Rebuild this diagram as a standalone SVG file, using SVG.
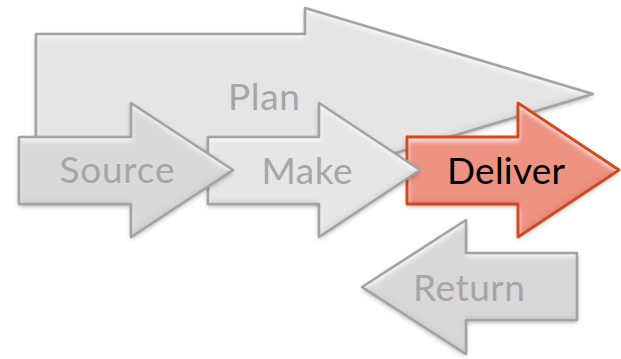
<svg xmlns="http://www.w3.org/2000/svg" width="621" height="359" viewBox="0 0 621 359">
  <style>
    .fill-plan { fill: #e5e5e5; }
    .fill-source { fill: #d9d9d9; }
    .fill-make { fill: #e6e6e6; }
    .fill-deliver { fill: #ee9282; }
    .fill-return { fill: #d8d8d8; }
    .edge { fill: none; stroke: #a3a3a3; stroke-width: 2.6; stroke-linejoin: round; }
    .edge-hot { fill: none; stroke: #d8471b; stroke-width: 2.8; stroke-linejoin: round; }
    .label { font-family: Lato, "Open Sans", "Liberation Sans", sans-serif; font-size: 37px; fill: #a6a6a6; text-anchor: middle; }
    .label-hot { fill: #000000; }
  </style>
  <defs>
    <!-- soft outer shadow plus a bevel-like light band along the upper inner edge -->
    <filter id="bevel" x="-10%" y="-15%" width="120%" height="135%">
      <feGaussianBlur in="SourceAlpha" stdDeviation="2.5" result="blur"/>
      <feOffset in="blur" dy="2" result="blurOff"/>
      <feFlood flood-color="#000" flood-opacity="0.35"/>
      <feComposite in2="blurOff" operator="in" result="shadow"/>
      <feGaussianBlur in="SourceAlpha" stdDeviation="2.5" result="inBlur"/>
      <feOffset in="inBlur" dx="1" dy="4" result="inDown"/>
      <feComposite in="SourceAlpha" in2="inDown" operator="out" result="topBand"/>
      <feFlood flood-color="#ffffff" flood-opacity="0.75"/>
      <feComposite in2="topBand" operator="in" result="light"/>
      <feOffset in="inBlur" dx="-1" dy="-4" result="inUp"/>
      <feComposite in="SourceAlpha" in2="inUp" operator="out" result="bottomBand"/>
      <feFlood flood-color="#000000" flood-opacity="0.12"/>
      <feComposite in2="bottomBand" operator="in" result="dark"/>
      <feMerge>
        <feMergeNode in="shadow"/>
        <feMergeNode in="SourceGraphic"/>
        <feMergeNode in="light"/>
        <feMergeNode in="dark"/>
      </feMerge>
    </filter>
    <path id="shape-plan" d="M36,34 H305 V8 L593,94 L305,180 V154 H36 Z"/>
    <path id="shape-source" d="M19,137 H131 V103 L233,170 L131,237 V204 H19 Z"/>
    <path id="shape-make" d="M208,137 H319 V103 L420,170 L319,237 V204 H208 Z"/>
    <path id="shape-deliver" d="M407,137 H518 V103 L619,170 L518,237 V204 H407 Z"/>
    <path id="shape-return" d="M362,287 L466,220 V253 H577 V320 H466 V354 Z"/>
  </defs>

  <g id="plan">
    <use href="#shape-plan" class="fill-plan" filter="url(#bevel)"/>
    <use href="#shape-plan" class="edge"/>
    <text class="label" x="264" y="110" textLength="72">Plan</text>
  </g>

  <g id="deliver">
    <use href="#shape-deliver" class="fill-deliver" filter="url(#bevel)"/>
    <use href="#shape-deliver" class="edge-hot"/>
    <text class="label label-hot" x="506" y="184" textLength="118">Deliver</text>
  </g>

  <g id="make">
    <use href="#shape-make" class="fill-make" filter="url(#bevel)"/>
    <use href="#shape-make" class="edge"/>
    <text class="label" x="307" y="184" textLength="91">Make</text>
  </g>

  <g id="source">
    <use href="#shape-source" class="fill-source" filter="url(#bevel)"/>
    <use href="#shape-source" class="edge"/>
    <text class="label" x="117" y="183" textLength="115">Source</text>
  </g>

  <g id="return">
    <use href="#shape-return" class="fill-return" filter="url(#bevel)"/>
    <use href="#shape-return" class="edge"/>
    <text class="label" x="469" y="301" textLength="112">Return</text>
  </g>

  <g id="connectors"></g>
</svg>
